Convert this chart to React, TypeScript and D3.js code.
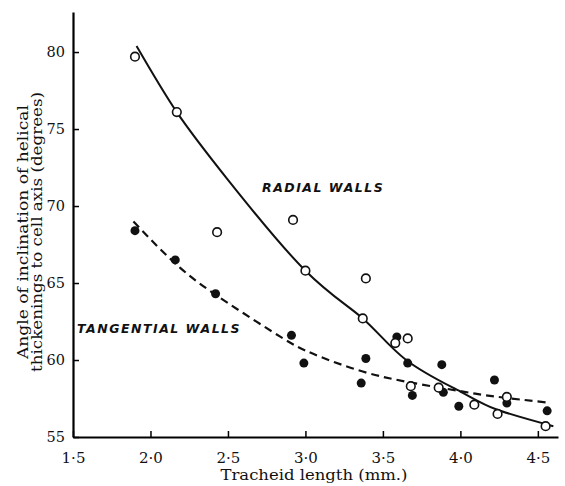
import React, { useEffect, useRef } from "react";
import * as d3 from "d3";

// open circles: radial walls
const radialX = [1.9, 2.17, 2.43, 2.92, 3.0, 3.39, 3.37, 3.58, 3.66, 3.68, 3.86, 4.09, 4.24, 4.3, 4.55];
const radialY = [79.7, 76.1, 68.3, 69.1, 65.8, 65.3, 62.7, 61.1, 61.4, 58.3, 58.2, 57.1, 56.5, 57.6, 55.7];

// filled circles: tangential walls
const tangX = [1.9, 2.16, 2.42, 2.91, 2.99, 3.39, 3.36, 3.59, 3.66, 3.69, 3.88, 3.89, 3.99, 4.22, 4.3, 4.56];
const tangY = [68.4, 66.5, 64.3, 61.6, 59.8, 60.1, 58.5, 61.5, 59.8, 57.7, 59.7, 57.9, 57.0, 58.7, 57.2, 56.7];

// fitted curves as drawn
const radialCurveX = [1.91, 2.17, 2.5, 3.0, 3.37, 3.65, 4.0, 4.23, 4.6];
const radialCurveY = [80.4, 76.1, 71.7, 65.8, 62.7, 60.0, 57.95, 56.8, 55.7];
const tangCurveX = [1.89, 2.19, 2.5, 2.84, 3.05, 3.37, 3.7, 4.0, 4.23, 4.58];
const tangCurveY = [69.0, 66.0, 63.7, 61.5, 60.4, 59.25, 58.5, 57.98, 57.62, 57.22];

const xTicks = [1.5, 2.0, 2.5, 3.0, 3.5, 4.0, 4.5];
const yTicks = [55, 60, 65, 70, 75, 80];

const App = () => {
  const ref = useRef<SVGSVGElement>(null);

  useEffect(() => {
    const svg = d3.select(ref.current);
    svg.selectAll("*").remove();

    const x = d3.scaleLinear().domain([1.5, 4.63]).range([73, 558]);
    const y = d3.scaleLinear().domain([55, 82.6]).range([437, 12]);
    const serif = "DejaVu Serif";

    const xAxis = svg
      .append("g")
      .attr("transform", "translate(0,437)")
      .call(
        d3
          .axisBottom(x)
          .tickValues(xTicks)
          .tickSizeInner(-6)
          .tickSizeOuter(0)
          .tickPadding(15)
          .tickFormat((d) => d3.format(".1f")(d as number).replace(".", "·"))
      );
    xAxis.select(".domain").attr("stroke-width", 2.2);
    xAxis.selectAll(".tick line").attr("stroke-width", 1.5);
    xAxis.selectAll("text").style("font-family", serif).style("font-size", "15px").attr("fill", "#111");

    const yAxis = svg
      .append("g")
      .attr("transform", "translate(73,0)")
      .call(d3.axisLeft(y).tickValues(yTicks).tickSizeInner(-6).tickSizeOuter(0).tickPadding(8));
    yAxis.select(".domain").attr("stroke-width", 2.2);
    yAxis.selectAll(".tick line").attr("stroke-width", 1.5);
    yAxis.selectAll("text").style("font-family", serif).style("font-size", "14.5px").attr("fill", "#111");

    const radialPts: [number, number][] = radialCurveX.map((v, i) => [x(v), y(radialCurveY[i])]);
    const tangPts: [number, number][] = tangCurveX.map((v, i) => [x(v), y(tangCurveY[i])]);
    const path = d3.line().curve(d3.curveNatural);

    svg.append("path").attr("d", path(radialPts)).attr("fill", "none").attr("stroke", "#111").attr("stroke-width", 2);
    svg
      .append("path")
      .attr("d", path(tangPts))
      .attr("fill", "none")
      .attr("stroke", "#111")
      .attr("stroke-width", 2.2)
      .attr("stroke-dasharray", "8,5");

    svg
      .append("g")
      .selectAll("circle")
      .data(tangX)
      .join("circle")
      .attr("cx", (d) => x(d))
      .attr("cy", (d, i) => y(tangY[i]))
      .attr("r", 4.5)
      .attr("fill", "#111");

    svg
      .append("g")
      .selectAll("circle")
      .data(radialX)
      .join("circle")
      .attr("cx", (d) => x(d))
      .attr("cy", (d, i) => y(radialY[i]))
      .attr("r", 4.3)
      .attr("fill", "#fff")
      .attr("stroke", "#111")
      .attr("stroke-width", 1.6);

    const lab = (t: string, px: number, py: number) =>
      svg
        .append("text")
        .attr("x", px)
        .attr("y", py)
        .text(t)
        .style("font-family", "DejaVu Sans")
        .style("font-size", "12.5px")
        .style("font-style", "italic")
        .style("font-weight", "bold")
        .style("letter-spacing", "1.5px")
        .attr("fill", "#111");
    lab("RADIAL WALLS", 262, 192);
    lab("TANGENTIAL WALLS", 77, 333);

    svg
      .append("text")
      .attr("x", 314)
      .attr("y", 480)
      .attr("text-anchor", "middle")
      .attr("textLength", 187)
      .attr("lengthAdjust", "spacingAndGlyphs")
      .style("font-family", serif)
      .style("font-size", "15px")
      .attr("fill", "#111")
      .text("Tracheid length (mm.)");

    const yl = svg.append("g").attr("transform", "translate(0,232) rotate(-90)");
    yl.append("text")
      .attr("x", 0)
      .attr("y", 28)
      .attr("text-anchor", "middle")
      .attr("textLength", 254)
      .attr("lengthAdjust", "spacingAndGlyphs")
      .style("font-family", serif)
      .style("font-size", "14px")
      .attr("fill", "#111")
      .text("Angle of inclination of helical");
    yl.append("text")
      .attr("x", 0)
      .attr("y", 42)
      .attr("text-anchor", "middle")
      .attr("textLength", 280)
      .attr("lengthAdjust", "spacingAndGlyphs")
      .style("font-family", serif)
      .style("font-size", "14px")
      .attr("fill", "#111")
      .text("thickenings to cell axis (degrees)");
  }, []);

  return (
    <svg
      ref={ref}
      width={565}
      height={486}
      style={{ position: "absolute", left: 0, top: 0, background: "#fff" }}
    ></svg>
  );
};

export default App;
